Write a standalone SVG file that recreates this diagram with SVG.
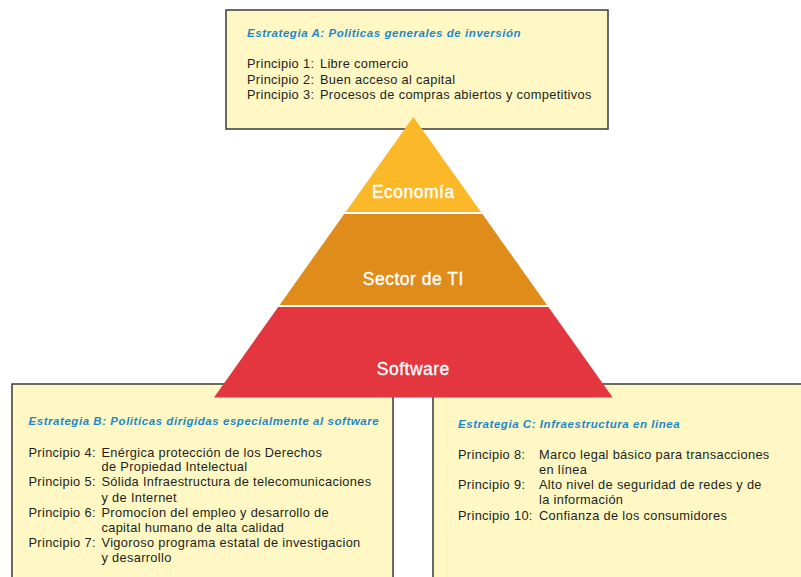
<svg xmlns="http://www.w3.org/2000/svg" width="801" height="577" viewBox="0 0 801 577">
<style>
.box{fill:#fff8c4;stroke:#3a3a3a;stroke-width:1.5}
.ttl{font-family:"Liberation Sans",Arial,sans-serif;font-size:11.5px;letter-spacing:0.55px;font-weight:bold;font-style:italic;fill:#1b88c9}
.t{font-family:"Liberation Sans",Arial,sans-serif;font-size:12.8px;letter-spacing:0.33px;fill:#231f20}
.lbl{font-family:"Liberation Sans",Arial,sans-serif;font-size:17.5px;letter-spacing:0.5px;fill:#ffffff;stroke:#ffffff;stroke-width:0.35px;text-anchor:middle}
</style>
<rect width="801" height="577" fill="#ffffff"/>
<g id="strategyA">
<rect class="box" x="226" y="10" width="382" height="119"/>
<text class="ttl" x="247" y="37">Estrategia A: Politicas generales de inversión</text>
<text class="t" x="247" y="68">Principio 1:</text><text class="t" x="320" y="68">Libre comercio</text>
<text class="t" x="247" y="83.5">Principio 2:</text><text class="t" x="320" y="83.5">Buen acceso al capital</text>
<text class="t" x="247" y="99">Principio 3:</text><text class="t" x="320" y="99">Procesos de compras abiertos y competitivos</text>
</g>
<g id="strategyB">
<rect class="box" x="12" y="384" width="381" height="200"/>
<text class="ttl" x="28.5" y="424.5">Estrategia B: Politicas dirigidas especialmente al software</text>
<text class="t" x="28.5" y="456.5">Principio 4:</text><text class="t" x="101.5" y="456.5">Enérgica protección de los Derechos</text>
<text class="t" x="101.5" y="471">de Propiedad Intelectual</text>
<text class="t" x="28.5" y="486">Principio 5:</text><text class="t" x="101.5" y="486">Sólida Infraestructura de telecomunicaciones</text>
<text class="t" x="101.5" y="501.5">y de Internet</text>
<text class="t" x="28.5" y="516.5">Principio 6:</text><text class="t" x="101.5" y="516.5">Promocíon del empleo y desarrollo de</text>
<text class="t" x="101.5" y="531.5">capital humano de alta calidad</text>
<text class="t" x="28.5" y="547">Principio 7:</text><text class="t" x="101.5" y="547">Vigoroso programa estatal de investigacion</text>
<text class="t" x="101.5" y="562">y desarrollo</text>
</g>
<g id="strategyC">
<rect class="box" x="433" y="384" width="380" height="200"/>
<text class="ttl" x="458" y="428">Estrategia C: Infraestructura en linea</text>
<text class="t" x="458" y="458.5">Principio 8:</text><text class="t" x="539" y="458.5">Marco legal básico para transacciones</text>
<text class="t" x="539" y="473.5">en línea</text>
<text class="t" x="458" y="488.5">Principio 9:</text><text class="t" x="539" y="488.5">Alto nivel de seguridad de redes y de</text>
<text class="t" x="539" y="504">la información</text>
<text class="t" x="458" y="519.5">Principio 10:</text><text class="t" x="539" y="519.5">Confianza de los consumidores</text>
</g>
<g id="pyramid">
<g id="economia">
<polygon points="413.3,117 481,212 345.6,212" fill="#fbb829"/>
<text class="lbl" x="413.3" y="197.5">Economía</text>
</g>
<g id="sectorTI">
<polygon points="344.2,214 482.4,214 547,305 279.6,305" fill="#e08c1a"/>
<text class="lbl" x="413.3" y="285">Sector de TI</text>
</g>
<g id="software">
<polygon points="278.2,307 548.4,307 612.7,397.5 214,397.5" fill="#e3363e"/>
<text class="lbl" x="413.3" y="375">Software</text>
</g>
</g>
</svg>
